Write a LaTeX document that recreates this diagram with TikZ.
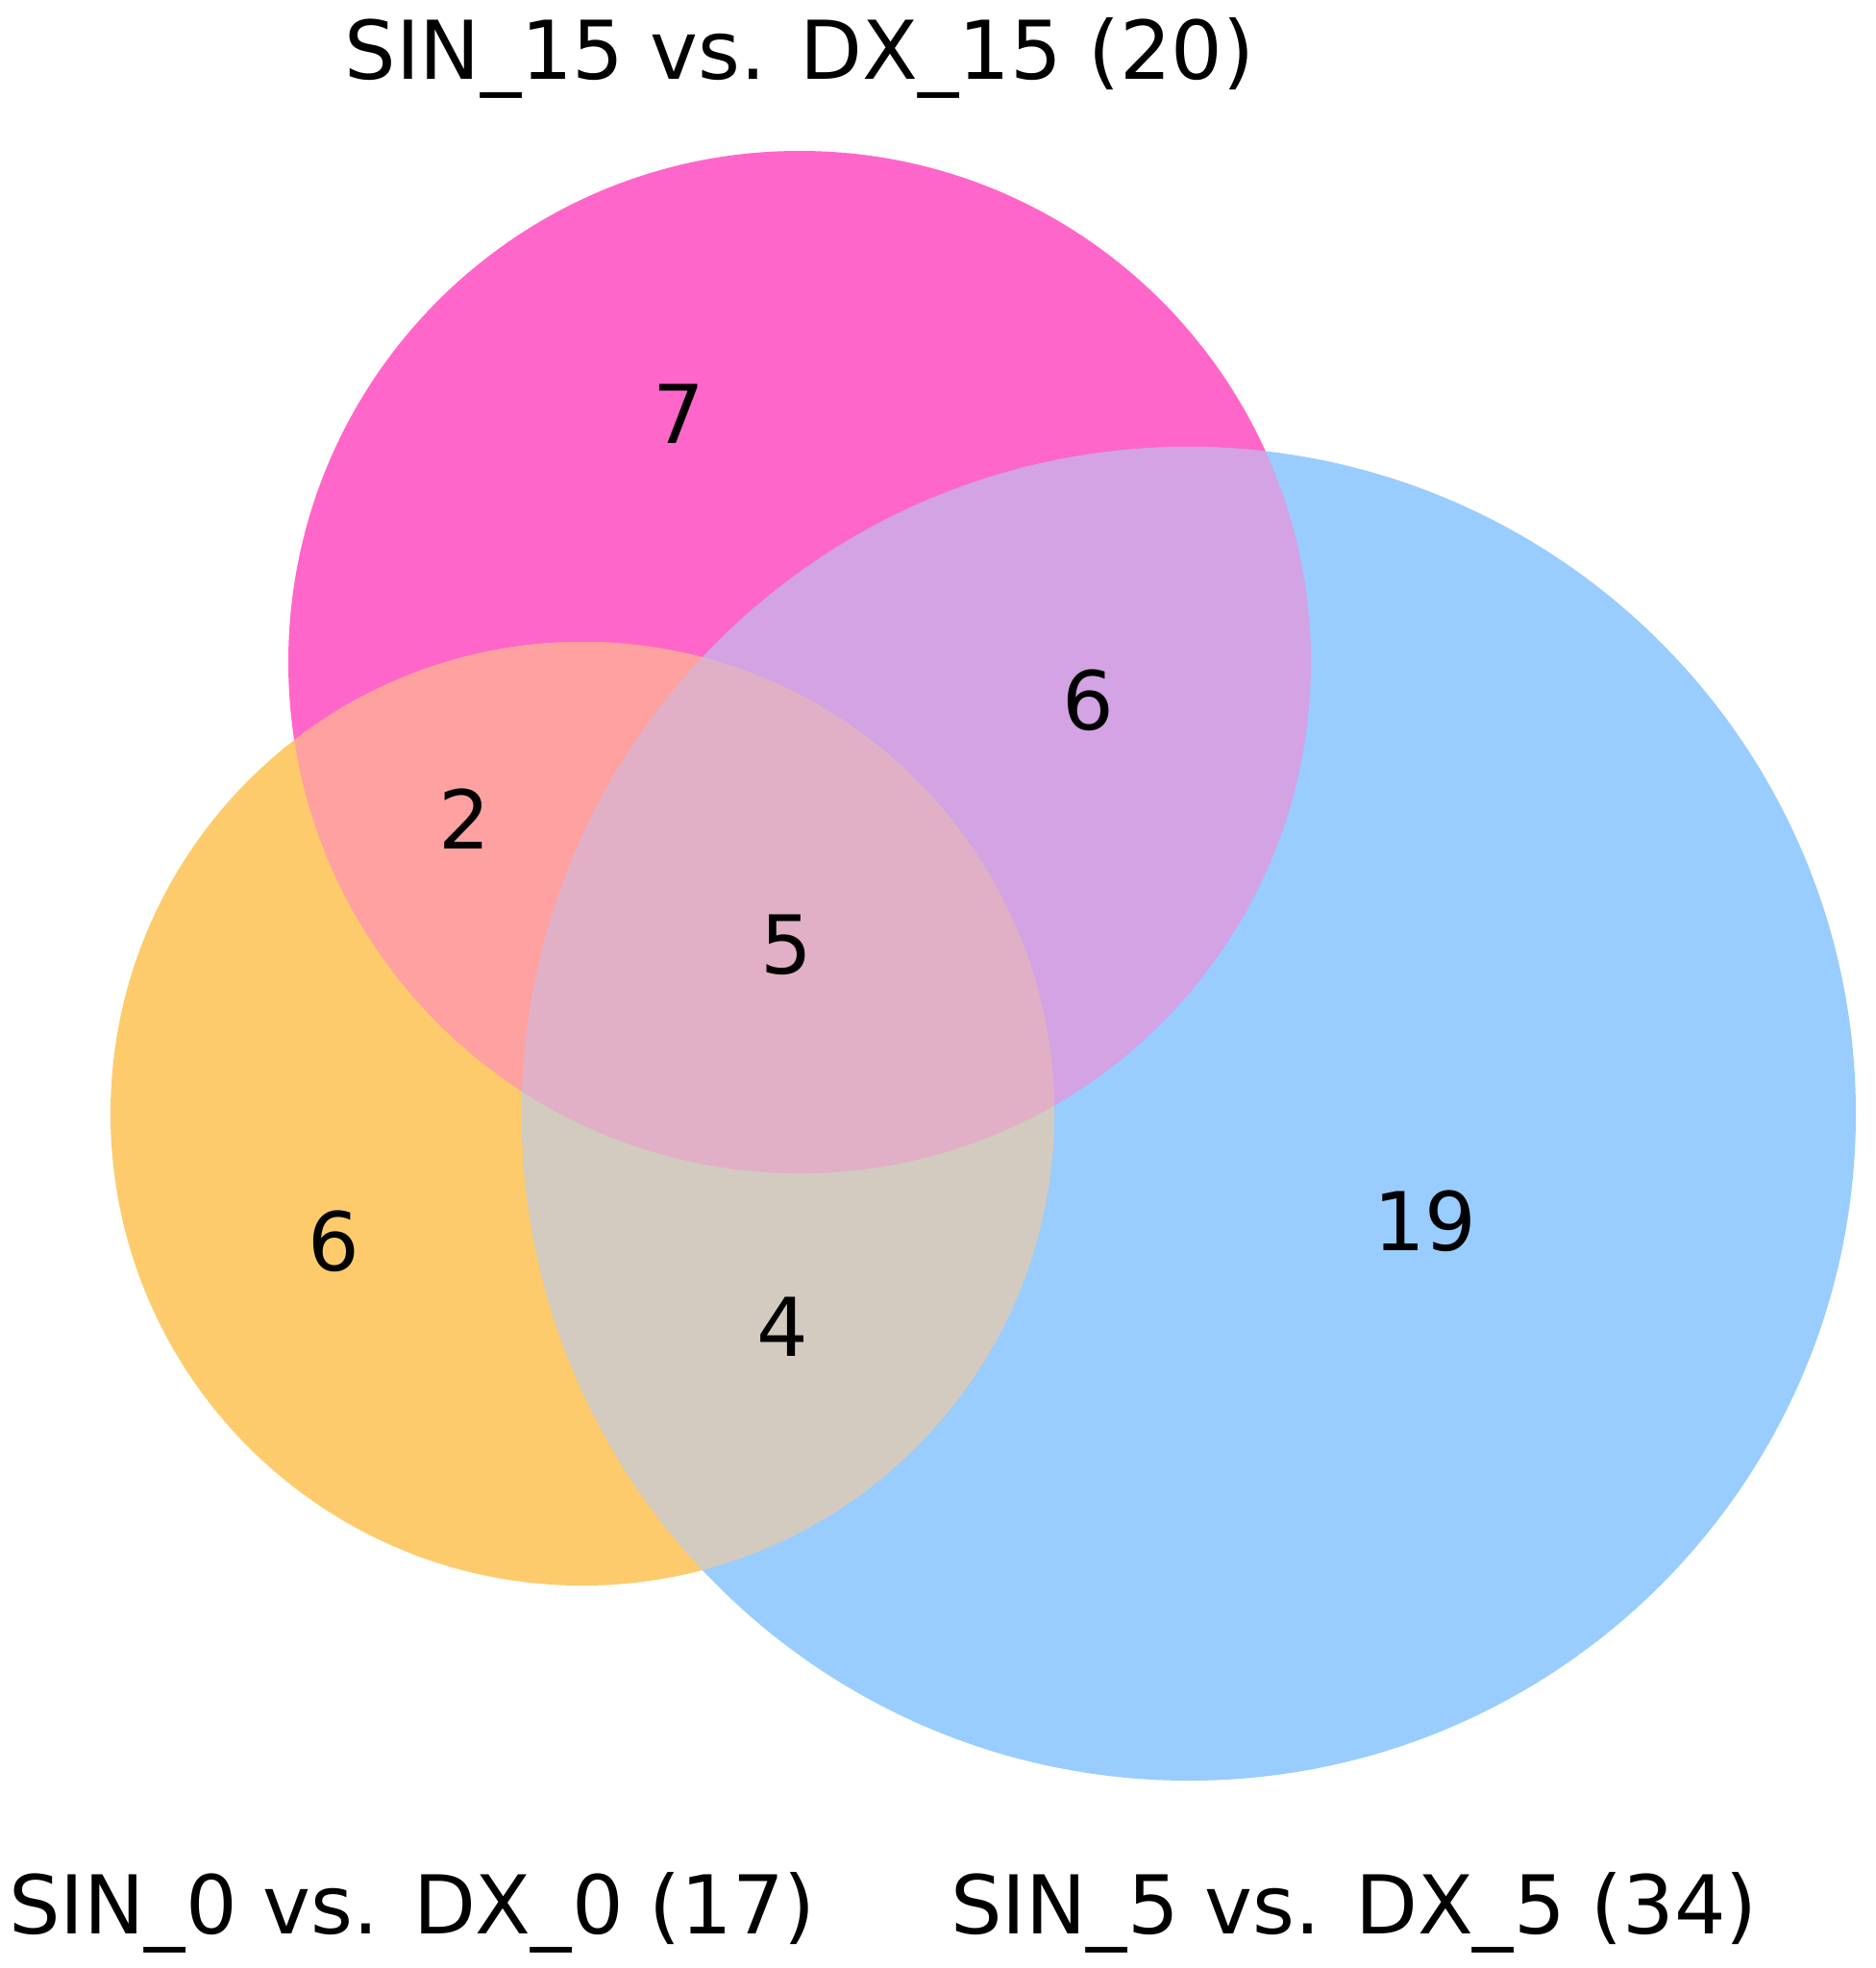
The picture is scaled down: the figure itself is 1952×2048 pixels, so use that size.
\documentclass[tikz,border=0pt]{standalone}
\usepackage{fontspec}
\setmainfont{DejaVu Sans}
\definecolor{rosa}{HTML}{FF66C9}
\definecolor{arancio}{HTML}{FDCB6B}
\definecolor{azzurro}{HTML}{99CCFF}
\definecolor{rosaarancio}{HTML}{FFA1A1}
\definecolor{rosaazzurro}{HTML}{D3A3E3}
\definecolor{aranciazzurro}{HTML}{D3CBC0}
\definecolor{tutti}{HTML}{E1B0C6}
\tikzset{
    numero/.style={font=\fontsize{24}{29}\selectfont, inner sep=0pt},
    titolo/.style={font=\fontsize{24}{29}\selectfont, inner sep=0pt, anchor=base}
}
\begin{document}
\begin{tikzpicture}[x=0.01cm,y=0.01cm]
    \useasboundingbox (0,0) rectangle (1952,-2048);

    % cerchi
    \def\cerchioP{(832,-689) circle (532)}
    \def\cerchioO{(606,-1159) circle (491)}
    \def\cerchioB{(1237,-1159) circle (694)}
    \fill[rosa] \cerchioP;
    \fill[arancio] \cerchioO;
    \fill[azzurro] \cerchioB;

    % intersezioni
    \begin{scope}
        \clip \cerchioP;
        \fill[rosaarancio] \cerchioO;
        \fill[rosaazzurro] \cerchioB;
    \end{scope}
    \begin{scope}
        \clip \cerchioO;
        \fill[aranciazzurro] \cerchioB;
    \end{scope}
    \begin{scope}
        \clip \cerchioP;
        \clip \cerchioO;
        \fill[tutti] \cerchioB;
    \end{scope}

    % numeri
    \node[numero] (solo15) at (706,-431) {7};
    \node[numero] (p15c5) at (1132,-729) {6};
    \node[numero] (p15c0) at (483,-852) {2};
    \node[numero] (centro) at (818,-983) {5};
    \node[numero] (solo0) at (347,-1292) {6};
    \node[numero] (p0c5) at (814,-1381) {4};
    \node[numero] (solo5) at (1483,-1271) {19};

    % etichette
    \node[titolo] (tit15) at (832,-82) {SIN\_15 vs. DX\_15 (20)};
    \node[titolo] (tit0) at (429,-2012) {SIN\_0 vs. DX\_0 (17)};
    \node[titolo] (tit5) at (1409,-2012) {SIN\_5 vs. DX\_5 (34)};
\end{tikzpicture}
\end{document}
